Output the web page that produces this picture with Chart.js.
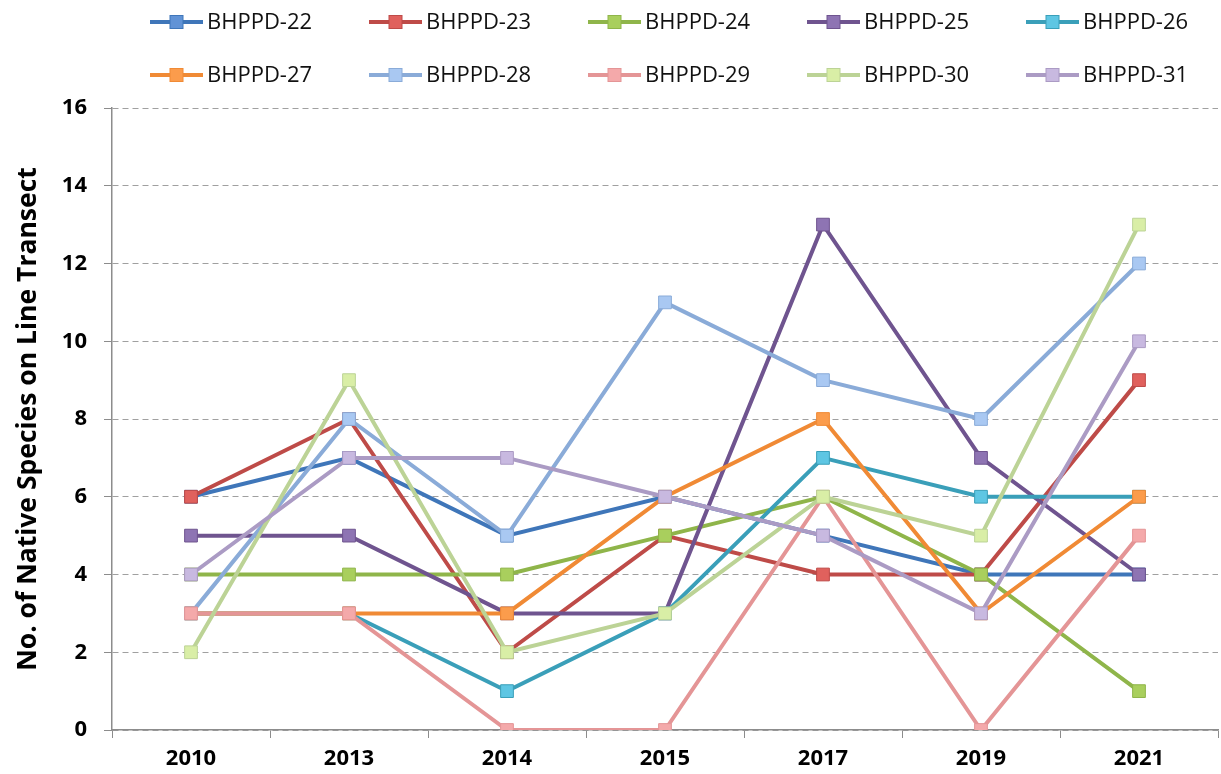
<!DOCTYPE html>
<html>
<head>
<meta charset="utf-8">
<script src="https://cdn.jsdelivr.net/npm/chart.js@4.4.1/dist/chart.umd.min.js"></script>
<style>
  body { margin: 0; background: #fff; }
  #wrap { width: 1221px; height: 774px; }
</style>
</head>
<body>
<div id="wrap"><canvas id="canvas" width="1221" height="774"></canvas></div>
<script>
// data
const years = ['2010', '2013', '2014', '2015', '2017', '2019', '2021'];
const seriesNames = ['BHPPD-22', 'BHPPD-23', 'BHPPD-24', 'BHPPD-25', 'BHPPD-26',
                     'BHPPD-27', 'BHPPD-28', 'BHPPD-29', 'BHPPD-30', 'BHPPD-31'];
const bhppd22 = [6, 7, 5, 6, 5, 4, 4];
const bhppd23 = [6, 8, 2, 5, 4, 4, 9];
const bhppd24 = [4, 4, 4, 5, 6, 4, 1];
const bhppd25 = [5, 5, 3, 3, 13, 7, 4];
const bhppd26 = [3, 3, 1, 3, 7, 6, 6];
const bhppd27 = [3, 3, 3, 6, 8, 3, 6];
const bhppd28 = [3, 8, 5, 11, 9, 8, 12];
const bhppd29 = [3, 3, 0, 0, 6, 0, 5];
const bhppd30 = [2, 9, 2, 3, 6, 5, 13];
const bhppd31 = [4, 7, 7, 6, 5, 3, 10];
const yTicks = [0, 2, 4, 6, 8, 10, 12, 14, 16];

const allValues = [bhppd22, bhppd23, bhppd24, bhppd25, bhppd26,
                   bhppd27, bhppd28, bhppd29, bhppd30, bhppd31];

// excel 2007 style colours: line, marker fill
const lineColors = ['#3f76b9', '#be4b48', '#8fb54a', '#6f548f', '#3a9fb9',
                    '#f08a35', '#8aabd8', '#e49596', '#bcd396', '#ab9bc4'];
const fillColors = ['#6193d6', '#e0615d', '#a9cf5d', '#8e74b3', '#5ec6e3',
                    '#fb9c4c', '#a9c8f2', '#f4a9aa', '#d9eea6', '#c8b9e0'];

const fontFam = '"Open Sans", "Liberation Sans", sans-serif';

const datasets = seriesNames.map(function (name, i) {
    return {
        label: name,
        data: allValues[i],
        borderColor: lineColors[i],
        backgroundColor: lineColors[i],
        borderWidth: 4,
        pointStyle: 'rect',
        pointRadius: 9,
        pointHoverRadius: 9,
        pointBackgroundColor: fillColors[i],
        pointBorderColor: lineColors[i],
        pointBorderWidth: 1,
        tension: 0,
        order: 10 - i   // later series on top, like excel
    };
});

// legend drawn in a fixed 5 x 2 grid
const gridLegend = {
    id: 'gridLegend',
    afterDraw: function (chart) {
        const c = chart.ctx;
        c.save();
        seriesNames.forEach(function (name, i) {
            const col = i % 5;
            const row = Math.floor(i / 5);
            const x0 = 150 + col * 219;
            const y0 = 22 + row * 53;
            c.strokeStyle = lineColors[i];
            c.lineWidth = 4;
            c.beginPath();
            c.moveTo(x0, y0);
            c.lineTo(x0 + 53, y0);
            c.stroke();
            c.fillStyle = fillColors[i];
            c.fillRect(x0 + 20, y0 - 6.5, 13, 13);
            c.strokeStyle = lineColors[i];
            c.lineWidth = 1;
            c.strokeRect(x0 + 20, y0 - 6.5, 13, 13);
            c.fillStyle = '#111';
            c.font = '22px ' + fontFam;
            c.textAlign = 'left';
            c.textBaseline = 'middle';
            c.fillText(name, x0 + 57, y0 + 1);
        });
        c.restore();
    }
};

const ctx = document.getElementById('canvas').getContext('2d');
const myChart = new Chart(ctx, {
    type: 'line',
    data: {
        labels: years,
        datasets: datasets
    },
    options: {
        responsive: false,
        animation: false,
        layout: {
            autoPadding: false,
            padding: { top: 108, right: 3, left: 0, bottom: 0 }
        },
        plugins: {
            legend: { display: false },
            tooltip: { enabled: false }
        },
        scales: {
            x: {
                offset: true,
                grid: {
                    offset: true,
                    drawOnChartArea: false,
                    drawTicks: true,
                    tickLength: 8,
                    color: '#8c8c8c'
                },
                border: { color: '#8c8c8c', width: 1.5 },
                ticks: {
                    color: '#000',
                    padding: 8,
                    font: { family: fontFam, size: 22, weight: 'bold' }
                },
                afterFit: function (scale) {
                    scale.height = 44;
                    scale.paddingLeft = 0;
                    scale.paddingRight = 0;
                }
            },
            y: {
                min: 0,
                max: 16,
                afterBuildTicks: function (scale) {
                    scale.ticks = yTicks.map(function (v) { return { value: v }; });
                },
                grid: {
                    color: '#a0a0a0',
                    lineWidth: 1,
                    tickLength: 8,
                    tickColor: '#8c8c8c'
                },
                border: { color: '#8c8c8c', width: 1.5, dash: [6, 4] },
                ticks: {
                    color: '#000',
                    padding: 17,
                    font: { family: fontFam, size: 22, weight: 'bold' }
                },
                title: {
                    display: true,
                    text: 'No. of Native Species on Line Transect',
                    color: '#000',
                    font: { family: fontFam, size: 26.5, weight: 'bold' },
                    padding: { top: 13, bottom: 0 }
                },
                afterFit: function (scale) { scale.width = 112; }
            }
        }
    },
    plugins: [gridLegend]
});
</script>
</body>
</html>
